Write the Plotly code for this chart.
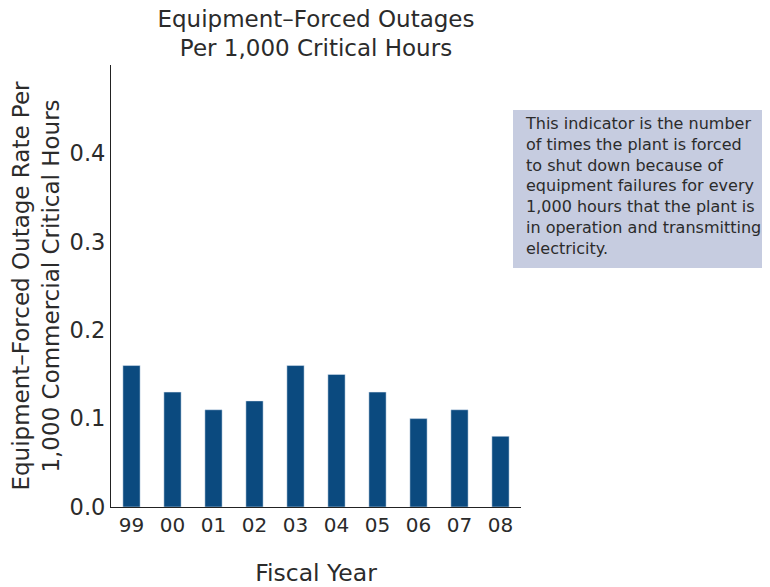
import plotly.graph_objects as go

years = ["99", "00", "01", "02", "03", "04", "05", "06", "07", "08"]
rates = [0.16, 0.13, 0.11, 0.12, 0.16, 0.15, 0.13, 0.10, 0.11, 0.08]
y_ticks = [0.0, 0.1, 0.2, 0.3, 0.4]
y_tick_labels = ["0.0", "0.1", "0.2", "0.3", "0.4"]

title_text = "Equipment–Forced Outages<br>Per 1,000 Critical Hours"
y_title = "Equipment–Forced Outage Rate Per<br>1,000 Commercial Critical Hours"
x_title = "Fiscal Year"
note_text = ("This indicator is the number<br>of times the plant is forced<br>"
             "to shut down because of<br>equipment failures for every<br>"
             "1,000 hours that the plant is<br>in operation and transmitting<br>electricity.")

FONT = "DejaVu Sans, Liberation Sans, sans-serif"
TXT = "#2b2b2b"

# page body has an 8px margin: figure sits at (8, 8) in the window
W, H = 762, 579
L, R, T, B = 103, 513, 57, 499  # plot area in figure pixels
PW, PH = R - L, B - T


def px(x):
    return (x - 8 - L) / PW


def py(y):
    return (B - (y - 8)) / PH


fig = go.Figure(go.Bar(
    x=years, y=rates, marker_color="#0b4a7f", width=0.42,
))

fig.update_layout(
    width=W, height=H,
    margin=dict(l=L, r=W - R, t=T, b=H - B, autoexpand=False),
    plot_bgcolor="white", paper_bgcolor="white",
    font=dict(family=FONT, color=TXT),
    showlegend=False,
    title=dict(text=title_text, x=(L + PW / 2) / W, xanchor="center",
               y=0.968, yanchor="top", yref="container",
               font=dict(size=23, color=TXT)),
    xaxis=dict(
        type="category", range=[-0.5, 9.5], automargin=False,
        showline=True, linecolor="#222", linewidth=1.2,
        showgrid=False, ticks="", tickfont=dict(size=20, color=TXT),
        title=dict(text=x_title, font=dict(size=23.5, color=TXT), standoff=32),
    ),
    yaxis=dict(
        range=[0, 0.5], tickvals=y_ticks, ticktext=y_tick_labels, automargin=False,
        showline=True, linecolor="#222", linewidth=1.2,
        showgrid=False, zeroline=False, ticks="",
        tickfont=dict(size=22.5, color=TXT),
        title=dict(text=y_title, font=dict(size=23, color=TXT), standoff=7),
    ),
    shapes=[dict(type="rect", xref="paper", yref="paper",
                 x0=px(513), x1=px(790),
                 y0=py(268), y1=py(110),
                 fillcolor="#c6cce0", line=dict(width=0), layer="below")],
    annotations=[dict(text=note_text, xref="paper", yref="paper",
                      x=px(523), y=py(112),
                      xanchor="left", yanchor="top", align="left",
                      showarrow=False, font=dict(size=16, color=TXT))],
)

fig.write_html("out.html")
